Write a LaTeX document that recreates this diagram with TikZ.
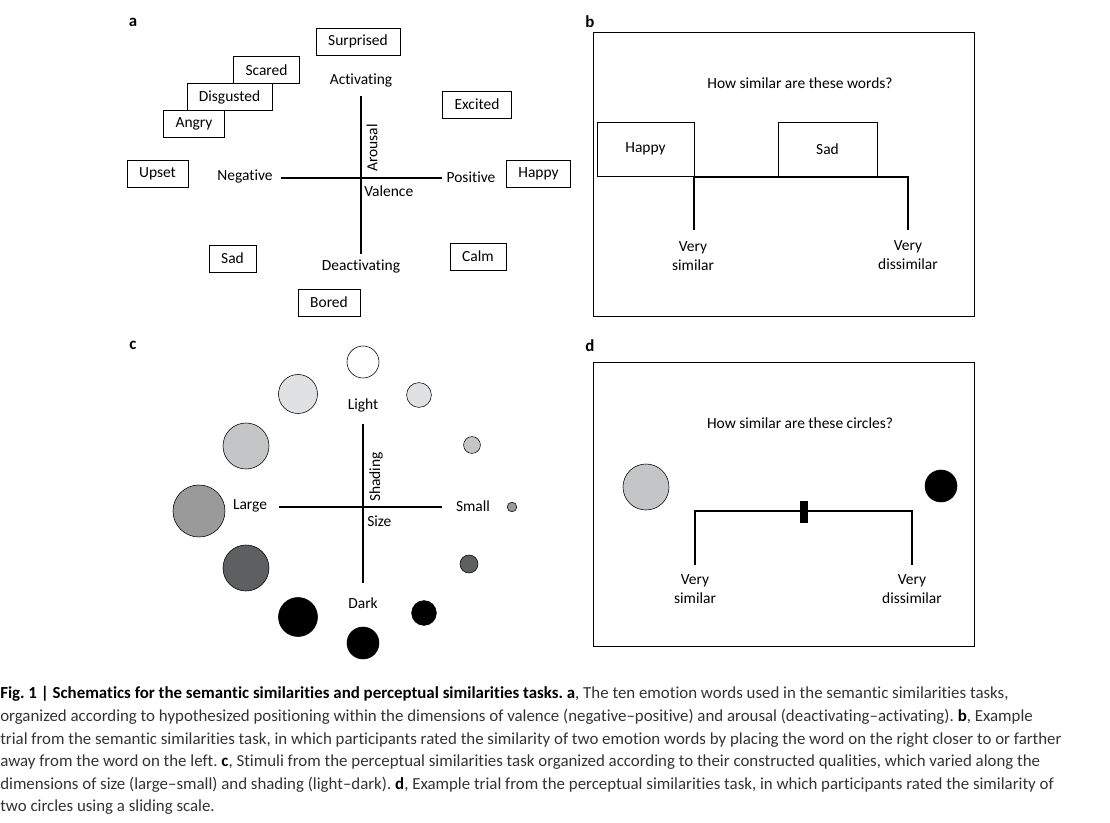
\documentclass[tikz,border=0pt]{standalone}
\usepackage{fontspec}
\setmainfont{Carlito}[Ligatures=NoCommon]
\usepackage{tikz}
\definecolor{shadeA}{HTML}{E0E1E2}
\definecolor{shadeB}{HTML}{C4C5C6}
\definecolor{shadeC}{HTML}{9A9A9A}
\definecolor{shadeD}{HTML}{5E5F60}
\definecolor{captext}{HTML}{333333}

\begin{document}
\frenchspacing
\begin{tikzpicture}[x=0.025cm,y=-0.025cm,
  word/.style={draw,thin,inner xsep=0.3cm,minimum height=0.675cm,font=\fontsize{11}{13}\selectfont},
  lbl/.style={inner sep=0pt,font=\fontsize{11}{13}\selectfont},
  two/.style={inner sep=0pt,align=center,font=\fontsize{11}{13.5}\selectfont},
  panel/.style={inner sep=0pt,font=\bfseries\fontsize{12}{14}\selectfont},
  axis/.style={line width=1.4pt},
  disc/.style={circle,draw,thin,inner sep=0pt},
  capline/.style={anchor=base west,inner sep=0pt,text=captext,font=\fontsize{12}{14}\selectfont}]
\useasboundingbox (0,0) rectangle (1110,822);

% a: emotion words
\node (la) at (133,22) [panel] {a};
\node (surprised) at (358,41.5) [word] {Surprised};
\node (scared) at (266.5,70) [word] {Scared};
\node (disgusted) at (229.5,97) [word] {Disgusted};
\node (angry) at (194,124) [word] {Angry};
\node (excited) at (477,104.5) [word] {Excited};
\node (upset) at (157.5,174) [word] {Upset};
\node (happy) at (538.5,174) [word] {Happy};
\node (sad) at (232.5,258.5) [word] {Sad};
\node (calm) at (478,256.5) [word] {Calm};
\node (bored) at (329,302.5) [word] {Bored};
\node (act) at (361,81) [lbl] {Activating};
\node (deact) at (361,267) [lbl] {Deactivating};
\node (neg) at (245,177) [lbl] {Negative};
\node (pos) at (471,177) [lbl] {Positive};
\node (val) at (364,191) [lbl,anchor=west] {Valence};
\node (aro) at (372,148) [lbl,rotate=90] {Arousal};
\coordinate (aL) at (281,178);
\coordinate (aR) at (442,178);
\coordinate (aT) at (361,96);
\coordinate (aB) at (361,254);
\draw[axis] (aL) -- (aR);
\draw[axis] (aT) -- (aB);

% b: word trial
\node (lb) at (590,22) [panel] {b};
\draw[thin] (593,32) rectangle (974,316);
\node (qb) at (800,83) [lbl] {How similar are these words?};
\node (bhappy) at (645.5,149) [draw,thin,minimum width=2.425cm,minimum height=1.35cm,lbl] {Happy};
\node (bsad) at (827.5,149) [draw,thin,minimum width=2.475cm,minimum height=1.35cm,lbl] {Sad};
\coordinate (bl) at (694,177);
\coordinate (br) at (908,177);
\coordinate (blb) at (694,230);
\coordinate (brb) at (908,230);
\draw[axis,line join=miter] (blb) -- (bl) -- (br) -- (brb);
\node (bsim) at (693,256.5) [two] {Very\\similar};
\node (bdis) at (908,255.5) [two] {Very\\dissimilar};

% c: circles
\node (lc) at (133,345) [panel] {c};
\foreach \n/\x/\y/\s/\c in {1/363/362/0.8/white, 2/298/394/0.975/shadeA, 3/419/395/0.62/shadeA,
    4/246/446/1.15/shadeB, 5/472/445/0.42/shadeB, 6/199/511/1.3/shadeC, 7/512/507/0.24/shadeC,
    8/246/568/1.15/shadeD, 9/469/564/0.45/shadeD, 10/298/617/0.975/black, 11/424/613/0.62/black,
    12/363/643/0.8/black}
  \node (c\n) at (\x,\y) [disc,fill=\c,minimum size=\s cm] {};
\node (light) at (363,405) [lbl] {Light};
\node (dark) at (363,603) [lbl] {Dark};
\node (large) at (250,506) [lbl] {Large};
\node (small) at (473,506) [lbl] {Small};
\node (size) at (367,521) [lbl,anchor=west] {Size};
\node (shd) at (376,477) [lbl,rotate=90] {Shading};
\coordinate (cL) at (279,507);
\coordinate (cR) at (442,507);
\coordinate (cT) at (363,424);
\coordinate (cB) at (363,583);
\draw[axis] (cL) -- (cR);
\draw[axis] (cT) -- (cB);

% d: circle trial
\node (ld) at (590,346) [panel] {d};
\draw[thin] (593,362) rectangle (974,646);
\node (qd) at (800,423) [lbl] {How similar are these circles?};
\node (dgrey) at (646,487) [disc,fill=shadeB,minimum size=1.15cm] {};
\node (dblack) at (941,486) [disc,fill=black,minimum size=0.8cm] {};
\coordinate (dl) at (695,511);
\coordinate (dr) at (912,511);
\coordinate (dlb) at (695,565);
\coordinate (drb) at (912,565);
\draw[line width=1.1pt] (dlb) -- (dl) -- (dr) -- (drb);
\node (slider) at (804,512) [fill=black,inner sep=0pt,minimum width=0.2cm,minimum height=0.55cm] {};
\node (dsim) at (695,589) [two] {Very\\similar};
\node (ddis) at (912,589) [two] {Very\\dissimilar};

% caption
\node (cap1) at (0,698) [capline] {\textbf{\color{black}Fig. 1 | Schematics for the semantic similarities and perceptual similarities tasks. a}, The ten emotion words used in the semantic similarities tasks,};
\node (cap2) at (0,721) [capline] {organized according to hypothesized positioning within the dimensions of valence (negative–positive) and arousal (deactivating–activating). \textbf{\color{black}b}, Example};
\node (cap3) at (0,744) [capline] {trial from the semantic similarities task, in which participants rated the similarity of two emotion words by placing the word on the right closer to or farther};
\node (cap4) at (0,766) [capline] {away from the word on the left. \textbf{\color{black}c}, Stimuli from the perceptual similarities task organized according to their constructed qualities, which varied along the};
\node (cap5) at (0,789) [capline] {dimensions of size (large–small) and shading (light–dark). \textbf{\color{black}d}, Example trial from the perceptual similarities task, in which participants rated the similarity of};
\node (cap6) at (0,811) [capline] {two circles using a sliding scale.};
\end{tikzpicture}
\end{document}
